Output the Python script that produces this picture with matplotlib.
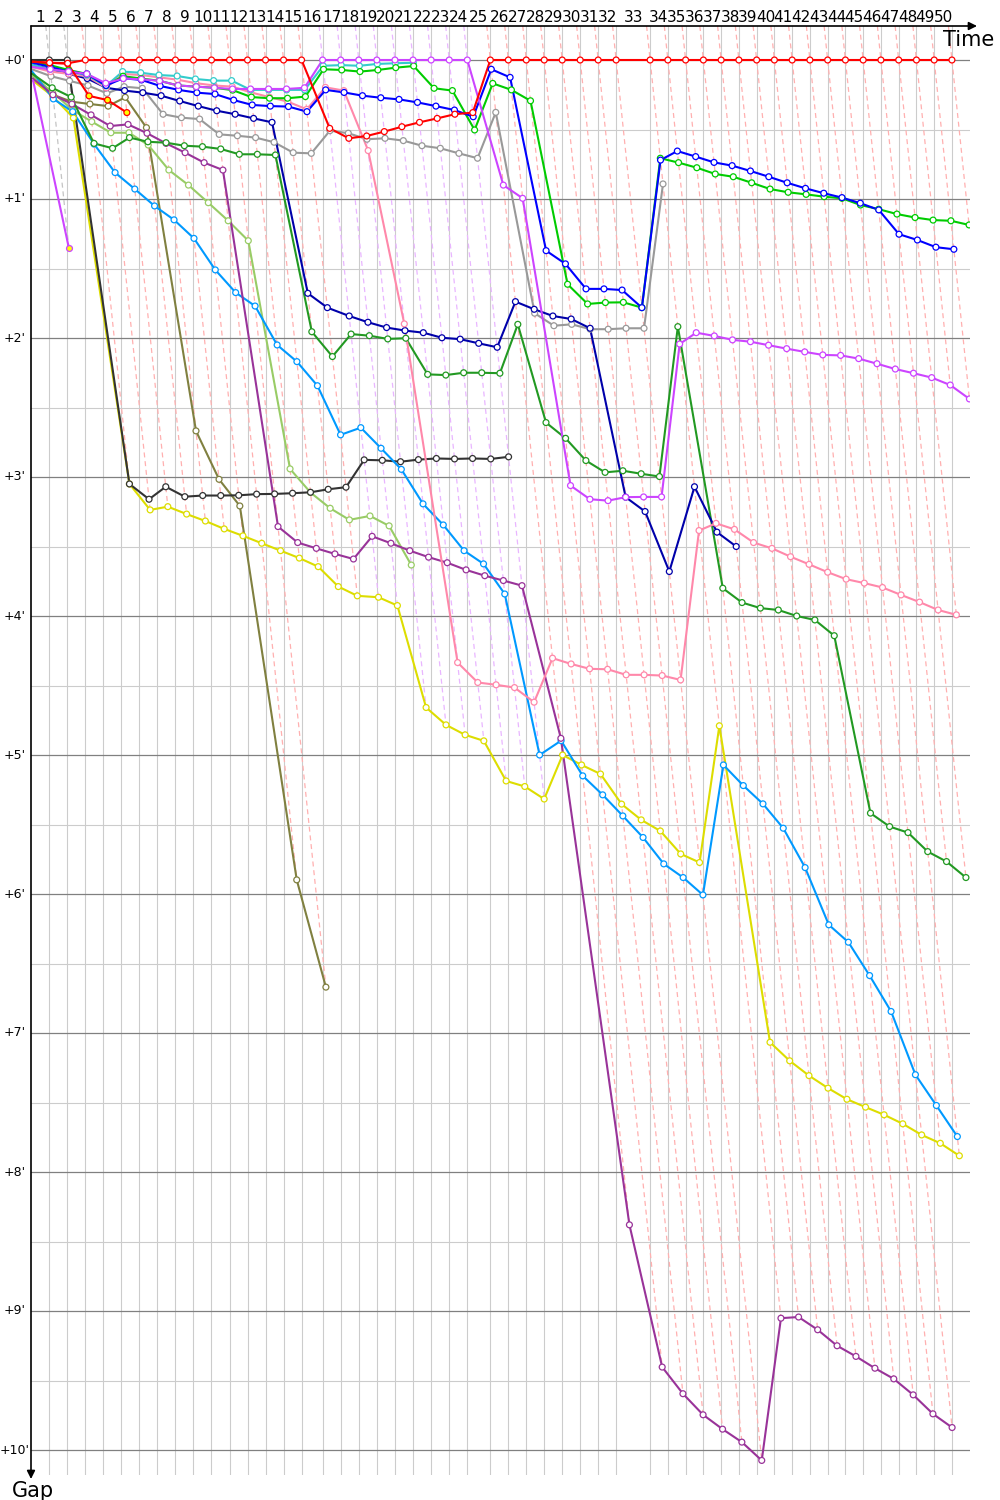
import numpy as np
import matplotlib
matplotlib.use("Agg")
import matplotlib.pyplot as plt
from matplotlib import transforms

# ---------------- data ----------------
# leader lap times in seconds (lap 1 .. 50)
lap_times = [76.0, 74.8, 74.8, 74.8, 74.8, 74.8, 74.8, 74.8, 74.8, 74.8,
             74.8, 74.8, 74.8, 74.8, 74.8, 87.2, 75.1, 75.1, 75.1, 75.1,
             75.1, 75.1, 75.1, 75.1, 95.5, 74.6, 74.6, 74.6, 74.6, 74.6,
             74.6, 74.6, 141.1, 73.7, 73.7, 73.7, 73.7, 73.7, 73.7, 73.7,
             73.7, 73.7, 73.7, 73.7, 73.7, 73.7, 73.7, 73.7, 73.7, 73.7]
lap_labels = [str(i) for i in range(1, 51)]
# which car led each lap (used for the colour of the lap lines)
lap_leader = ["black"] * 2 + ["red"] * 13 + ["magenta"] * 9 + ["red"] * 26
gap_ticks = [0, 1, 2, 3, 4, 5, 6, 7, 8, 9, 10]          # minutes
gap_tick_labels = ["+%d'" % m for m in gap_ticks]

# gaps to the leader in seconds, index = lap (0 = start)
red_gaps = [0.7, 1.2, 1.4, 0, 0, 0, 0, 0, 0, 0, 0, 0, 0, 0, 0, 0,
            29.5, 33.8, 32.8, 30.9, 28.8, 26.9, 25.2, 23.4, 22.7,
            0, 0, 0, 0, 0, 0, 0, 0, 0, 0, 0, 0, 0, 0, 0, 0, 0, 0, 0, 0, 0, 0, 0, 0, 0, 0]
red2_gaps = [0.7, 1.2, 1.6, 15.5, 17.3, 22.7]
magenta_gaps = [3, 4, 5, 6, 10, 8, 8.3, 9, 11, 11.5, 12, 12.5, 12.5, 12.5, 12.5, 12,
                0, 0, 0, 0, 0, 0, 0, 0, 0,
                54, 59.7, 183.7, 189.6, 190.2, 188.7, 188.6, 188.6, 122.6, 117.7,
                119.1, 120.8, 121.6, 123.1, 124.6, 126, 127.3, 127.5, 128.9, 131.1,
                133.4, 135.2, 137.1, 140.3, 146.3]
magenta2_gaps = [9, 81.1]
purple_gaps = [8, 15, 19, 23.7, 28.5, 27.8, 31.6, 36, 40, 44.3, 47.5, 201.4, 208.3,
               210.8, 213.2, 215.4, 205.6, 208.6, 211.8, 214.6, 217, 220.1, 222.6,
               224.7, 226.9, 292.8, 502.8, 564.2, 575.7, 584.8, 591, 596.6, 604.5,
               543.1, 542.6, 548.1, 555, 559.6, 564.7, 569.3, 576.2, 584.4, 590.3]
olive_gaps = [6, 15, 18, 19, 19.9, 16.1, 29.2, 160.1, 181, 192.5, 353.9, 400.2]
black_gaps = [0, 0, 0, 183, 189.6, 184.2, 188.5, 188, 188, 187.9, 187.4, 187.3, 187,
              186.6, 185.3, 184.4, 172.6, 172.8, 173.4, 172.5, 172, 172.2, 172,
              172.2, 171.3]
yellow_gaps = [9, 15.8, 25, 183, 194.2, 192.8, 196, 199, 202.4, 205.4, 208.6, 211.8,
               215, 218.7, 227.3, 231.3, 231.9, 235.5, 279.5, 287, 291.3, 293.9,
               311.2, 313.6, 319, 300, 304.3, 308.2, 321.2, 328, 332.8, 342.7, 346.4,
               287.4, 424, 432, 438.4, 443.8, 448.6, 452, 455.3, 459.2, 464, 467.6, 473]
lightgreen_gaps = [7, 14, 21.6, 26.6, 31.4, 31.4, 36.7, 47.5, 54, 61.6, 69.4, 78,
                   176.5, 186.7, 193.5, 198.5, 196.8, 201.1, 218]
darkgreen_gaps = [6, 12, 16, 36, 38.1, 33.5, 35.3, 35.7, 37, 37.4, 38.4, 40.7, 40.7,
                  41, 117.3, 128, 118.3, 119, 120.4, 120.1, 135.7, 136, 135, 135,
                  135.2, 114.1, 156.5, 163.3, 172.9, 178, 177.3, 178.6, 179.8, 115.1,
                  228, 234.2, 236.6, 237.4, 240, 241.7, 248.5, 325.1, 330.9, 333.5,
                  341.7, 346, 352.9]
lightblue_gaps = [5, 16.8, 22.3, 36.3, 48.6, 55.7, 63, 69, 77, 90.6, 100.4, 106.2,
                  123, 130.2, 140.6, 161.8, 158.7, 167.6, 176.7, 191.6, 200.7, 211.8,
                  217.5, 230.5, 300, 293.8, 309, 317.2, 326.3, 335.6, 347, 352.9,
                  360.4, 304.3, 313.2, 321.1, 331.6, 348.6, 373.3, 380.8, 395.2,
                  410.7, 438, 451.3, 464.7]
blue_gaps = [1, 3, 5, 6, 11, 7.9, 8.6, 11.2, 12.9, 14.1, 14.7, 17.3, 19.4, 19.9, 20.1,
             22.3, 12.9, 14, 15.4, 16.3, 17, 18.3, 19.9, 21.6, 24.5, 4, 7.5, 82.3, 88,
             98.8, 98.8, 99.3, 106.9, 43.2, 39.3, 41.7, 44.2, 45.6, 47.9, 50.4, 53,
             55.4, 57.5, 59.4, 61.8, 64.7, 75.2, 77.7, 80.8, 81.7]
navy_gaps = [2, 4, 6, 8, 12, 13.2, 14.1, 15.4, 17.7, 19.9, 21.9, 23.4, 25.2, 26.9,
             100.7, 106.9, 110.5, 113.2, 115.5, 116.8, 117.7, 119.9, 120.5, 122.3,
             124, 104.3, 107.6, 110.5, 111.8, 115.8, 188.7, 194.9, 220.8, 184.2,
             203.8, 210]
green_gaps = [1, 2.2, 4.3, 6, 11, 7, 8, 9, 11, 11.5, 12, 13, 16, 16.5, 16.5, 15.8,
              4, 4.3, 5, 4.3, 3.3, 2.6, 12.2, 13.2, 30.2, 10.1, 12.9, 17.6, 96.8,
              105.3, 104.7, 104.6, 106.9, 42.4, 44.3, 46.5, 49.2, 50.4, 53, 55.7,
              57.1, 58, 59, 59.7, 62.6, 64.4, 66.5, 68, 69.1, 69.4, 71.2]
cyan_gaps = [2, 4, 5, 6.5, 11.2, 5, 5.5, 6.5, 6.9, 8.2, 8.9, 8.9, 12.9, 12.9, 12.9,
             12.9, 2.5, 2.2, 2.5, 1.7, 1.4, 1.2]
pink_gaps = [3, 5, 6, 7, 12, 6, 6.5, 7.5, 8.5, 10, 11, 11.5, 14, 16, 18, 21.3, 11.8,
             13.2, 39.1, 113.9, 260.1, 268.7, 269.7, 270.9, 277.2, 258.2, 260.7,
             262.8, 263, 265.4, 265.4, 265.7, 267.6, 203.1, 200, 202.6, 208.3,
             210.8, 214.4, 217.7, 221.1, 224.1, 225.8, 227.7, 230.9, 234, 237.4, 239.5]
grey_gaps = [4, 7, 9, 11, 14.4, 11.5, 12.2, 23.4, 24.9, 25.5, 32.1, 32.7, 33.5, 35.5,
             40, 40.3, 30.5, 31.6, 34.2, 33.8, 34.8, 37, 38.1, 40.3, 42.4, 22.6,
             109.3, 114.7, 114.1, 116.2, 116.2, 115.8, 115.8, 53.5]

# laps whose marker is filled yellow
red2_yellow = [3, 4, 5]
magenta2_yellow = [1]
blue_yellow = [1, 2]
green_yellow = [1, 2]

# (colour, gaps, yellow-filled laps)
series = [
    ("#999999", grey_gaps, []),
    ("#808040", olive_gaps, []),
    ("#99cc66", lightgreen_gaps, []),
    ("#dddd00", yellow_gaps, []),
    ("#333333", black_gaps, []),
    ("#0099ff", lightblue_gaps, []),
    ("#993399", purple_gaps, []),
    ("#229922", darkgreen_gaps, []),
    ("#0000aa", navy_gaps, []),
    ("#ff88aa", pink_gaps, []),
    ("#33cccc", cyan_gaps, []),
    ("#00cc00", green_gaps, green_yellow),
    ("#0000ff", blue_gaps, blue_yellow),
    ("#cc44ff", magenta2_gaps, magenta2_yellow),
    ("#cc44ff", magenta_gaps, []),
    ("#ff0000", red2_gaps, red2_yellow),
    ("#ff0000", red_gaps, []),
]

# ---------------- layout ----------------
W, H = 1000, 1500
px_left, px_right, px_top, px_bottom = 31, 970, 26, 1475
x_scale = 0.2409          # px per second along time axis
y_scale = 139 / 60.0      # px per second of gap
y0_px = 60                # pixel row of +0'

fig = plt.figure(figsize=(W / 100, H / 100), dpi=100)
ax = fig.add_axes([px_left / W, 1 - px_bottom / H,
                   (px_right - px_left) / W, (px_bottom - px_top) / H])
xmax = (px_right - px_left) / x_scale
ytop = -(y0_px - px_top) / y_scale
ybot = (px_bottom - y0_px) / y_scale
ax.set_xlim(0, xmax)
ax.set_ylim(ybot, ytop)
for s in ax.spines.values():
    s.set_visible(False)
ax.set_xticks([])
ax.set_yticks([])

T = np.concatenate([[0.0], np.cumsum(lap_times)])

# grid
for k in range(1, len(T)):
    ax.axvline(T[k], color="#cccccc", lw=0.8, zorder=0)
for sec in range(30, 601, 60):
    ax.axhline(sec, color="#cccccc", lw=0.8, zorder=0)
for m in gap_ticks:
    ax.axhline(m * 60, color="#808080", lw=0.9, zorder=0.5)

# lap lines (dashed): x = T_k + gap
lead_col = {"black": "#c4c4c4", "red": "#ffb0b0", "magenta": "#e9b6ff"}
for k in range(1, len(T)):
    gmax = max(g[k] for _, g, _ in series if len(g) > k)
    ax.plot([T[k] + ytop, T[k] + gmax], [ytop, gmax], ls=(0, (4, 3)),
            color=lead_col[lap_leader[k - 1]], lw=0.9, zorder=1)

# driver series
for col, g, yl in series:
    g = np.asarray(g, dtype=float)
    laps = np.arange(len(g))
    x = T[laps] + g
    ax.plot(x, g, color=col, lw=1.5, zorder=3, solid_joinstyle="round")
    fc = ["#ffff00" if k in yl else "white" for k in laps]
    ax.scatter(x[1:], g[1:], s=18, facecolors=fc[1:], edgecolors=col,
               linewidths=0.9, zorder=4)

# lap labels at the middle of each lap interval
lab_tr = transforms.blended_transform_factory(ax.transData, ax.transAxes)
ylab = 1 + 1 / (px_bottom - px_top)
for k in range(1, len(T)):
    ax.text((T[k - 1] + T[k]) / 2, ylab, lap_labels[k - 1], transform=lab_tr,
            ha="center", va="bottom", fontsize=11, clip_on=False)

# gap labels
gtr = transforms.blended_transform_factory(ax.transAxes, ax.transData)
for m, lab in zip(gap_ticks, gap_tick_labels):
    ax.text(-16 / (px_right - px_left), m * 60, lab, transform=gtr, ha="center",
            va="center", fontsize=9, clip_on=False)

# axes arrows
ax.annotate("", xy=(1 + 7 / (px_right - px_left), 1), xytext=(0, 1),
            xycoords="axes fraction",
            arrowprops=dict(arrowstyle="-|>", color="black", lw=1.2,
                            mutation_scale=12, shrinkA=0, shrinkB=0))
ax.annotate("", xy=(0, -4 / (px_bottom - px_top)), xytext=(0, 1),
            xycoords="axes fraction",
            arrowprops=dict(arrowstyle="-|>", color="black", lw=1.2,
                            mutation_scale=12, shrinkA=0, shrinkB=0))
fig.text(969 / W, 1 - 40 / H, "Time", ha="center", va="center", fontsize=15)
fig.text(33 / W, 1 - 1491 / H, "Gap", ha="center", va="center", fontsize=15)

fig.savefig("out.png", dpi=100)
